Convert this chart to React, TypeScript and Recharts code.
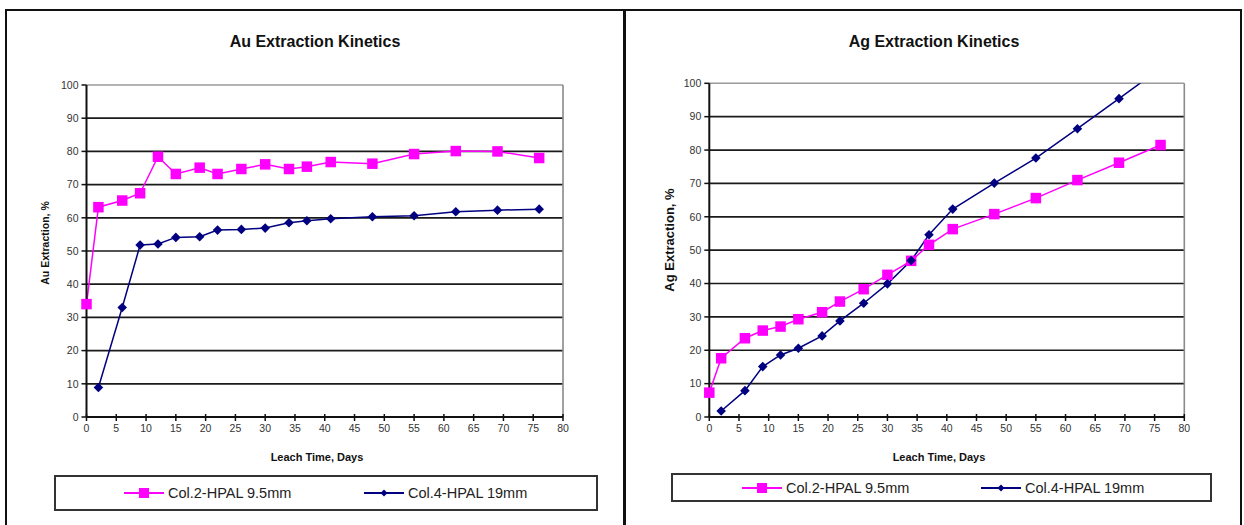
import React from 'react';
import { LineChart, Line, XAxis, YAxis, CartesianGrid, ReferenceLine } from 'recharts';

const PINK = '#FF00FF';
const NAVY = '#000080';
const FONT = '"Liberation Sans", Arial, sans-serif';

const SERIES = ['Col.2-HPAL 9.5mm', 'Col.4-HPAL 19mm'];
const X_TICKS = [0, 5, 10, 15, 20, 25, 30, 35, 40, 45, 50, 55, 60, 65, 70, 75, 80];
const Y_TICKS = [0, 10, 20, 30, 40, 50, 60, 70, 80, 90, 100];
const GRID_VALUES = [10, 20, 30, 40, 50, 60, 70, 80, 90];

// Au column tests
const auDays2 = [0, 2, 6, 9, 12, 15, 19, 22, 26, 30, 34, 37, 41, 48, 55, 62, 69, 76];
const auCol2 = [34, 63.2, 65.2, 67.4, 78.4, 73.2, 75.1, 73.2, 74.7, 76.1, 74.7, 75.4, 76.8, 76.3, 79.2, 80.1, 80, 78];
const auDays4 = [2, 6, 9, 12, 15, 19, 22, 26, 30, 34, 37, 41, 48, 55, 62, 69, 76];
const auCol4 = [8.9, 33, 51.8, 52.1, 54.1, 54.3, 56.3, 56.5, 56.9, 58.5, 59.1, 59.7, 60.3, 60.6, 61.8, 62.3, 62.6];

// Ag column tests
const agDays2 = [0, 2, 6, 9, 12, 15, 19, 22, 26, 30, 34, 37, 41, 48, 55, 62, 69, 76];
const agCol2 = [7.3, 17.6, 23.6, 25.9, 27.1, 29.3, 31.4, 34.6, 38.3, 42.6, 46.8, 51.6, 56.3, 60.8, 65.6, 71, 76.2, 81.5];
const agDays4 = [2, 6, 9, 12, 15, 19, 22, 26, 30, 34, 37, 41, 48, 55, 62, 69, 76];
const agCol4 = [1.8, 7.9, 15.1, 18.6, 20.6, 24.3, 28.8, 34.1, 39.9, 46.9, 54.6, 62.3, 70.1, 77.6, 86.4, 95.4, 104.5];

const zip = (days: number[], vals: number[]) => days.map((day, i) => ({ day, value: vals[i] }));

function SquareDot(props: any) {
  const { cx, cy } = props;
  if (cx == null || cy == null) return null;
  return <rect x={cx - 5.25} y={cy - 5.25} width={10.5} height={10.5} fill={PINK} />;
}

function DiamondDot(props: any) {
  const { cx, cy } = props;
  if (cx == null || cy == null) return null;
  const r = 4.8;
  return <path d={`M${cx},${cy - r}L${cx + r},${cy}L${cx},${cy + r}L${cx - r},${cy}Z`} fill={NAVY} />;
}

// ticks cross the axis line, label below
function XTick(props: any) {
  const { x, y, payload } = props;
  return (
    <g>
      <line x1={x} x2={x} y1={y - 3} y2={y + 4} stroke="#111" strokeWidth={1.5} />
      <text x={x} y={y + 15} textAnchor="middle" fontSize={10.5} fill="#333" fontFamily={FONT}>
        {payload.value}
      </text>
    </g>
  );
}

type PanelProps = {
  left: number;
  width: number;
  margin: { top: number; right: number; bottom: number; left: number };
  s2: { day: number; value: number }[];
  s4: { day: number; value: number }[];
};

function KineticsChart({ left, width, margin, s2, s4 }: PanelProps) {
  return (
    <div style={{ position: 'absolute', left, top: 0 }}>
      <LineChart width={width} height={525} margin={margin}>
        <CartesianGrid vertical={false} horizontalValues={GRID_VALUES} stroke="#1a1a1a" strokeWidth={1.7} />
        <ReferenceLine y={100} stroke="#9a9a9a" strokeWidth={1.6} />
        <ReferenceLine x={80} stroke="#8a8a8a" strokeWidth={1.6} />
        <XAxis
          type="number"
          dataKey="day"
          domain={[0, 80]}
          ticks={X_TICKS}
          interval={0}
          height={30}
          tickSize={0}
          tickMargin={0}
          tickLine={false}
          axisLine={{ stroke: '#111', strokeWidth: 2 }}
          tick={<XTick />}
        />
        <YAxis
          type="number"
          domain={[0, 100]}
          ticks={Y_TICKS}
          allowDataOverflow
          interval={0}
          width={60}
          tickSize={5}
          tickMargin={3}
          tickLine={{ stroke: '#111', strokeWidth: 1.5 }}
          axisLine={{ stroke: '#111', strokeWidth: 2 }}
          tick={{ fontSize: 10.5, fill: '#333', fontFamily: FONT }}
        />
        <Line
          data={s2}
          dataKey="value"
          name={SERIES[0]}
          stroke={PINK}
          strokeWidth={1.5}
          dot={<SquareDot />}
          activeDot={false}
          isAnimationActive={false}
        />
        <Line
          data={s4}
          dataKey="value"
          name={SERIES[1]}
          stroke={NAVY}
          strokeWidth={1.5}
          dot={<DiamondDot />}
          activeDot={false}
          isAnimationActive={false}
        />
      </LineChart>
    </div>
  );
}

function LegendIcon({ kind }: { kind: 'square' | 'diamond' }) {
  return (
    <svg width={40} height={14} style={{ display: 'block' }}>
      <line x1={0} x2={40} y1={7} y2={7} stroke={kind === 'square' ? PINK : NAVY} strokeWidth={2} />
      {kind === 'square' ? (
        <rect x={15} y={2} width={10} height={10} fill={PINK} />
      ) : (
        <path d="M20,3.5L23.5,7L20,10.5L16.5,7Z" fill={NAVY} />
      )}
    </svg>
  );
}

function LegendBox({ box, items }: { box: { x: number; y: number; w: number; h: number }; items: number[] }) {
  return (
    <div
      style={{
        position: 'absolute',
        left: box.x,
        top: box.y,
        width: box.w,
        height: box.h,
        border: '2px solid #333',
        boxSizing: 'border-box',
      }}
    >
      {SERIES.map((name, i) => (
        <div
          key={name}
          style={{
            position: 'absolute',
            left: items[i] - box.x - 2,
            top: 0,
            height: box.h - 4,
            display: 'flex',
            alignItems: 'center',
            gap: 4,
            fontSize: 14.5,
            color: '#222',
            whiteSpace: 'nowrap',
          }}
        >
          <LegendIcon kind={i === 0 ? 'square' : 'diamond'} />
          <span>{name}</span>
        </div>
      ))}
    </div>
  );
}

const titleStyle: React.CSSProperties = {
  position: 'absolute',
  width: 300,
  textAlign: 'center',
  fontWeight: 'bold',
  fontSize: 16,
  lineHeight: '18px',
  color: '#111',
};

const xLabelStyle: React.CSSProperties = {
  position: 'absolute',
  width: 200,
  textAlign: 'center',
  fontWeight: 'bold',
  fontSize: 11,
  lineHeight: '12px',
  color: '#111',
};

function RotatedLabel({ cx, cy, size, text }: { cx: number; cy: number; size: number; text: string }) {
  return (
    <div
      style={{
        position: 'absolute',
        left: cx - 100,
        top: cy - 10,
        width: 200,
        height: 20,
        lineHeight: '20px',
        textAlign: 'center',
        fontWeight: 'bold',
        fontSize: size,
        color: '#111',
        transform: 'rotate(-90deg)',
        whiteSpace: 'nowrap',
      }}
    >
      {text}
    </div>
  );
}

export default function App() {
  return (
    <div
      style={{
        position: 'absolute',
        left: 0,
        top: 0,
        width: 1244,
        height: 525,
        overflow: 'hidden',
        background: '#fff',
        fontFamily: FONT,
      }}
    >
      {/* panel frames */}
      <div style={{ position: 'absolute', left: 5, top: 9, width: 620, height: 540, border: '2px solid #111', boxSizing: 'border-box' }} />
      <div
        style={{
          position: 'absolute',
          left: 623,
          top: 9,
          width: 619,
          height: 540,
          border: '2px solid #111',
          borderLeftWidth: 3,
          boxSizing: 'border-box',
        }}
      />

      <div style={{ ...titleStyle, left: 315 - 150, top: 33 }}>Au Extraction Kinetics</div>
      <div style={{ ...titleStyle, left: 934 - 150, top: 33 }}>Ag Extraction Kinetics</div>

      <KineticsChart
        left={0}
        width={624}
        margin={{ top: 85, right: 61, bottom: 78, left: 26.5 }}
        s2={zip(auDays2, auCol2)}
        s4={zip(auDays4, auCol4)}
      />
      <KineticsChart
        left={624}
        width={620}
        margin={{ top: 83.3, right: 59.7, bottom: 78, left: 25.3 }}
        s2={zip(agDays2, agCol2)}
        s4={zip(agDays4, agCol4)}
      />

      <RotatedLabel cx={45} cy={243} size={10.5} text="Au Extraction, %" />
      <RotatedLabel cx={670} cy={240} size={13} text="Ag Extraction, %" />

      <div style={{ ...xLabelStyle, left: 317 - 100, top: 451 }}>Leach Time, Days</div>
      <div style={{ ...xLabelStyle, left: 939 - 100, top: 451 }}>Leach Time, Days</div>

      <LegendBox box={{ x: 54, y: 475, w: 544, h: 36 }} items={[124, 364]} />
      <LegendBox box={{ x: 671, y: 473, w: 541, h: 29 }} items={[742, 981]} />
    </div>
  );
}
